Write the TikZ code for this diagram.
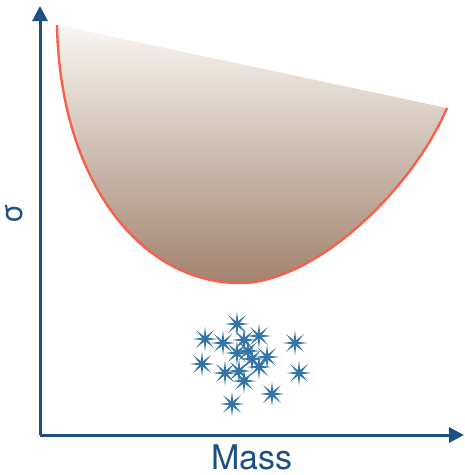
\documentclass[tikz,border=0pt]{standalone}
\usepackage{fontspec}
\setmainfont{TeX Gyre Heros}
\usetikzlibrary{arrows.meta}

\definecolor{axisblue}{HTML}{1C4F88}
\definecolor{starblue}{HTML}{3475A8}
\definecolor{edgered}{HTML}{F6604C}
\definecolor{toptan}{HTML}{F9F6F2}
\definecolor{midtan}{HTML}{E9DFD6}
\definecolor{bottombrown}{HTML}{A2836E}

\begin{document}
\begin{tikzpicture}[
  x=1pt, y=-1pt,
  axis/.style={draw=axisblue, line width=3pt, -{Triangle[length=15pt, width=15pt]}},
  axislabel/.style={text=axisblue, font=\fontsize{34}{34}\selectfont, inner sep=0pt},
  spike/.style={fill=starblue}
]
  \useasboundingbox (0,0) rectangle (465,475);

  % axes
  \coordinate (origin) at (40,435);
  \coordinate (ytip) at (40,6);
  \coordinate (xtip) at (464,435);
  \draw [axis] (origin) -- (ytip);
  \draw [axis] (origin) -- (xtip);

  \node [axislabel, anchor=base] (mass) at (252,469) {Mass};
  \node [axislabel, font=\fontsize{30}{30}\selectfont, rotate=90, anchor=center] (sigma) at (14,214) {σ};

  % region above the bound
  \coordinate (left) at (57,25);
  \coordinate (bottom) at (240,283);
  \coordinate (right) at (447,108);
  \shade [top color=toptan, middle color=midtan, bottom color=bottombrown]
    (left) .. controls (60,180) and (140,283) .. (bottom)
    .. controls (315,283) and (412,190) .. (right) -- cycle;
  \draw [edgered, line width=2.4pt]
    (left) .. controls (60,180) and (140,283) .. (bottom)
    .. controls (315,283) and (412,190) .. (right);

  % stars
  \foreach \x/\y in {237/324, 205/339, 259/336, 223/343, 244/340, 295/343,
                     202/364, 237/353, 248/351, 252/359, 267/357, 225/373,
                     239/371, 259/367, 244/381, 299/373, 272/394, 232/404} {
    \begin{scope}[shift={(\x,\y)}]
      \foreach \a in {0,45,...,315}
        \fill [spike] (\a+90:1.6) -- (\a:12.5) -- (\a-90:1.6) -- cycle;
      \fill [spike] (0,0) circle (2.4);
    \end{scope}
  }
\end{tikzpicture}
\end{document}
